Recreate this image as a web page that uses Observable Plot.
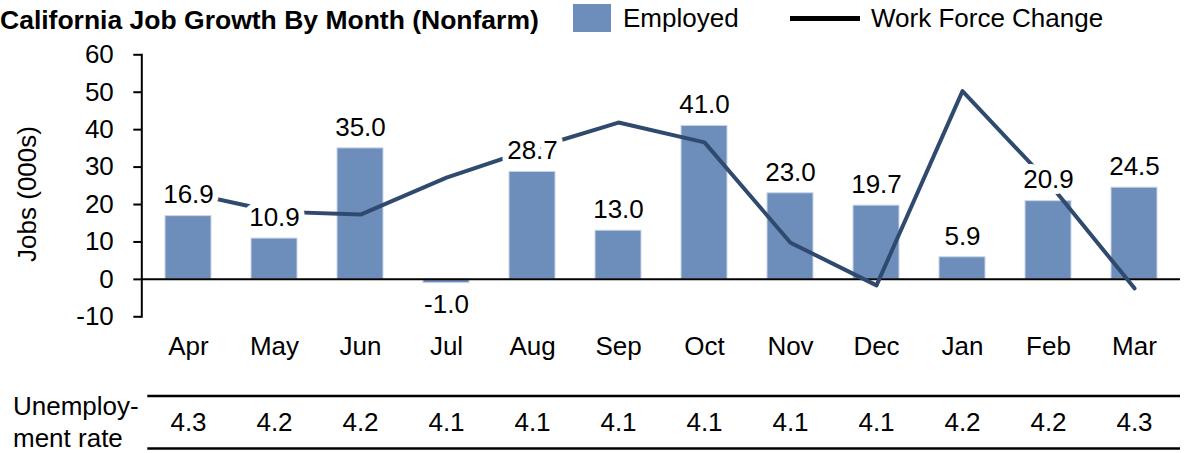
<!DOCTYPE html>
<html><head><meta charset="utf-8">
<script src="https://cdn.jsdelivr.net/npm/d3@7"></script>
<script src="https://cdn.jsdelivr.net/npm/@observablehq/plot@0.6"></script>
<style>
body{margin:0;background:#fff;font-family:"Liberation Sans",Arial,sans-serif;color:#000;}
#wrap{position:relative;width:1191px;height:453px;overflow:hidden;}
#head{position:relative;height:40px;}
.t{position:absolute;white-space:nowrap;line-height:1;}
</style></head><body>
<div id="wrap">
<div id="head">
 <div class="t" style="left:0px;top:7px;font-size:26.5px;font-weight:bold">California Job Growth By Month (Nonfarm)</div>
 <div style="position:absolute;left:573px;top:4px;width:38px;height:28px;background:#6d8ebb"></div>
 <div class="t" style="left:623px;top:5px;font-size:26px">Employed</div>
 <div style="position:absolute;left:790px;top:16px;width:70px;height:5px;background:#000"></div>
 <div class="t" style="left:871px;top:5px;font-size:26px">Work Force Change</div>
</div>
<div id="chart"></div>
</div>
<script>
const months = ["Apr","May","Jun","Jul","Aug","Sep","Oct","Nov","Dec","Jan","Feb","Mar"];
const employed = [16.9,10.9,35.0,-1.0,28.7,13.0,41.0,23.0,19.7,5.9,20.9,24.5];
const workForceChange = [23.1,18.1,17.3,27.2,34.9,41.9,36.6,9.8,-1.6,50.3,25.9,-2.4];
const unemploymentRate = [4.3,4.2,4.2,4.1,4.1,4.1,4.1,4.1,4.1,4.2,4.2,4.3];
const yDomain = [-10, 60];
const yTicks = [-10,0,10,20,30,40,50,60];
const yLabel = "Jobs (000s)";
const rowLabel = "Unemploy-\nment rate";

const data = months.map((m,i)=>({month:m, employed:employed[i], workforce:workForceChange[i], rate:unemploymentRate[i]}));
const font = '"Liberation Sans", Arial, sans-serif';
const fs = 26;

const chart = Plot.plot({
  width: 1191, height: 413,
  marginLeft: 141.3, marginRight: 11, marginTop: 14.3, marginBottom: 136.7,
  style: {fontFamily: font, fontSize: fs + "px", color: "#000", background: "#fff", overflow: "visible"},
  x: {domain: months, type: "band", paddingInner: 0.469, paddingOuter: 0.231, label: null},
  y: {domain: yDomain, label: null},
  marks: [
    Plot.barY(data, {x: "month", y: "employed", fill: "#6d8ebb", stroke: "#c9d5e6", strokeWidth: 1}),
    Plot.ruleY([0], {stroke: "#000", strokeWidth: 2}),
    Plot.line(data, {x: "month", y: "workforce", stroke: "#2f4a6e", strokeWidth: 4}),
    Plot.text(data.filter(d=>d.employed>=0), {x: "month", y: "employed", text: d=>d.employed.toFixed(1), dy: -21, fontSize: fs, fill: "#000", stroke: "#fff", strokeWidth: 12, paintOrder: "stroke", strokeLinejoin: "round"}),
    Plot.text(data.filter(d=>d.employed<0), {x: "month", y: "employed", text: d=>d.employed.toFixed(1), dy: 22, fontSize: fs, fill: "#000", stroke: "#fff", strokeWidth: 12, paintOrder: "stroke", strokeLinejoin: "round"}),
    Plot.axisY({ticks: yTicks, tickFormat: d => String(d), tickSize: 8, tickPadding: 20, strokeWidth: 2, label: null, fontSize: fs}),
    Plot.axisX({tickSize: 0, tickPadding: 20, label: null, fontSize: fs}),
    Plot.frame({anchor: "left", stroke: "#000", strokeWidth: 2}),
    Plot.text([yLabel], {frameAnchor: "left", rotate: -90, textAnchor: "middle", lineAnchor: "middle", dx: -114.3, dy: 8.2, fontSize: fs}),
    Plot.ruleY([yDomain[0]], {dy: 79.2, stroke: "#000", strokeWidth: 2.5, insetLeft: 6}),
    Plot.ruleY([yDomain[0]], {dy: 131.7, stroke: "#000", strokeWidth: 2.5, insetLeft: 6}),
    Plot.text(data, {x: "month", text: d=>d.rate.toFixed(1), frameAnchor: "bottom", lineAnchor: "middle", dy: 105.7, fontSize: fs}),
    Plot.text([rowLabel], {frameAnchor: "bottom-left", textAnchor: "start", lineAnchor: "middle", dx: -128.8, dy: 103.5, lineHeight: 1.24, fontSize: fs})
  ]
});
document.getElementById("chart").appendChild(chart);
</script>
</body></html>
